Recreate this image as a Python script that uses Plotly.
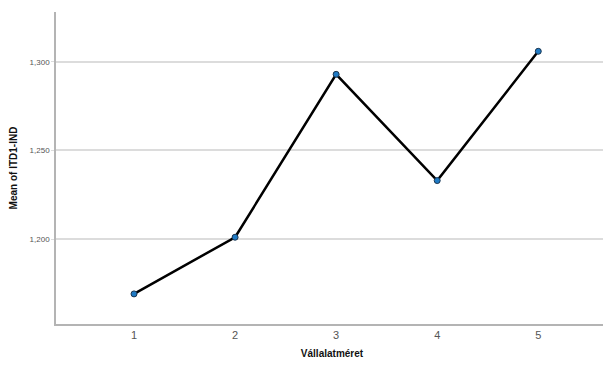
import plotly.graph_objects as go

categories = [1, 2, 3, 4, 5]
means = [1.169, 1.201, 1.293, 1.233, 1.306]
y_ticks = [1.200, 1.250, 1.300]

fig = go.Figure()
fig.add_trace(go.Scatter(
    x=categories, y=means, mode="lines+markers",
    line=dict(color="black", width=2.5),
    marker=dict(color="#1f7ac4", size=6, line=dict(color="#1a3550", width=1)),
    showlegend=False,
))

fig.update_layout(
    width=611, height=366,
    margin=dict(l=48, r=11, t=4, b=50),
    paper_bgcolor="white", plot_bgcolor="white",
    separators=", ",
    font=dict(family="Liberation Sans, Arial, sans-serif", color="#333"),
)
fig.update_xaxes(
    range=[0.228, 5.69], tickvals=categories, ticktext=[str(c) for c in categories],
    showgrid=False, showline=True, linecolor="#b4b4b4", linewidth=1.5,
    tickfont=dict(size=11, color="#555"), ticks="", zeroline=False,
    title=dict(text="<b>Vállalatméret</b>", font=dict(size=10, color="#111"), standoff=10),
)
fig.update_yaxes(
    range=[1.152, 1.3282], tickvals=y_ticks, tickformat=".3f",
    showgrid=True, gridcolor="#dcdcdc", gridwidth=1.5,
    showline=True, linecolor="#b4b4b4", linewidth=1.5,
    ticks="outside", ticklen=3, tickcolor="#dcdcdc",
    tickfont=dict(size=8, color="#555"), zeroline=False,
    title=dict(text="<b>Mean of ITD1-IND</b>", font=dict(size=10, color="#111"), standoff=10),
)

fig.write_html("out.html")
